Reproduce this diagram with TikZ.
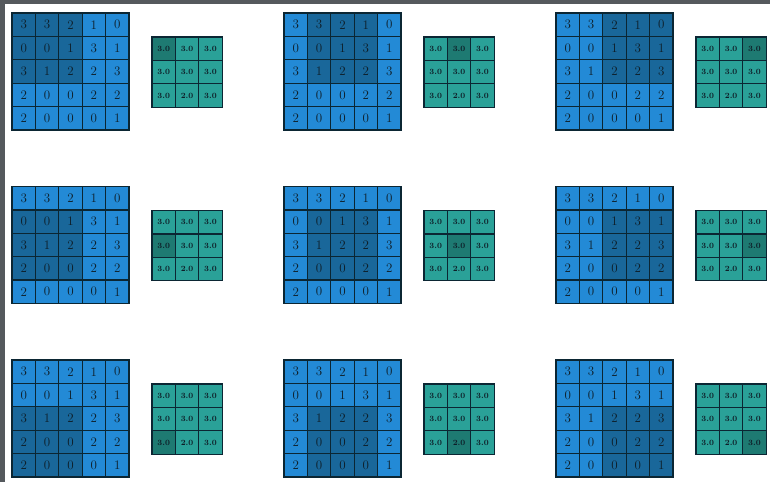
\documentclass[tikz,border=0pt]{standalone}
\usepackage{tikz}
\definecolor{lblue}{HTML}{238AD6}
\definecolor{dblue}{HTML}{19679A}
\definecolor{lteal}{HTML}{2AA198}
\definecolor{dteal}{HTML}{1E7A72}
\definecolor{edgec}{HTML}{0B2633}
\definecolor{txtc}{HTML}{0E1E28}
\definecolor{framec}{HTML}{55595D}
\tikzset{
  incell/.style={draw=edgec, line width=1.3pt, minimum size=23.4pt, inner sep=0pt,
    text=txtc, font=\fontsize{13}{13}\selectfont},
  outcell/.style={draw=edgec, line width=1.3pt, minimum size=23.4pt, inner sep=0pt,
    text=txtc, font=\fontsize{8}{8}\selectfont\bfseries},
}
\begin{document}
\begin{tikzpicture}[x=1pt,y=-1pt]
\useasboundingbox (0,0) rectangle (770,482);
\fill[framec] (0,0) rectangle (770,4);
\fill[framec] (0,0) rectangle (4.5,482);
\foreach \i in {0,1,2}{
  \foreach \j in {0,1,2}{
    % input grid
    \foreach \r/\vals in {0/{3,3,2,1,0},1/{0,0,1,3,1},2/{3,1,2,2,3},3/{2,0,0,2,2},4/{2,0,0,0,1}}{
      \foreach \v [count=\cc from 0] in \vals {
        \pgfmathtruncatemacro\hl{(\r>=\i)&&(\r<=\i+2)&&(\cc>=\j)&&(\cc<=\j+2)}
        \ifnum\hl=1 \def\fc{dblue}\else\def\fc{lblue}\fi
        \node[incell, fill=\fc] (in-\i-\j-\r-\cc) at ({12+272*\j+23.4*(\cc+0.5)},{13+173.5*\i+23.4*(\r+0.5)}) {\v};
      }
    }
    % output grid
    \foreach \r in {0,1,2}{
      \foreach \cc in {0,1,2}{
        \pgfmathtruncatemacro\hl{(\r==\i)&&(\cc==\j)}
        \ifnum\hl=1 \def\fc{dteal}\else\def\fc{lteal}\fi
        \pgfmathtruncatemacro\two{(\r==2)&&(\cc==1)}
        \ifnum\two=1 \def\ov{2.0}\else\def\ov{3.0}\fi
        \node[outcell, fill=\fc] (out-\i-\j-\r-\cc) at ({152+272*\j+23.4*(\cc+0.5)},{37+173.5*\i+23.4*(\r+0.5)}) {\ov};
      }
    }
  }
}
\end{tikzpicture}
\end{document}
